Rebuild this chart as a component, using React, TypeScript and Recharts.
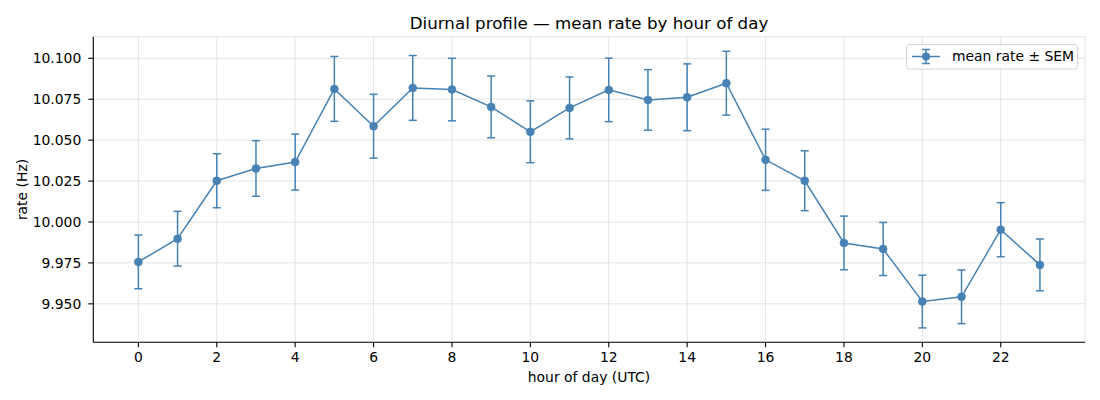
import React from 'react';
import { ComposedChart, Line, XAxis, YAxis, CartesianGrid, ErrorBar } from 'recharts';

const hours = [0, 1, 2, 3, 4, 5, 6, 7, 8, 9, 10, 11, 12, 13, 14, 15, 16, 17, 18, 19, 20, 21, 22, 23];
const meanRate = [
  9.9756, 9.9898, 10.0252, 10.0327, 10.0366, 10.0813, 10.0585, 10.0819, 10.0809, 10.0703, 10.0551, 10.0697,
  10.0807, 10.0746, 10.0762, 10.0848, 10.038, 10.0252, 9.9872, 9.9835, 9.9514, 9.9543, 9.9953, 9.9738,
];
const semValues = [
  0.0164, 0.0167, 0.0165, 0.017, 0.0171, 0.0198, 0.0195, 0.0198, 0.0191, 0.0189, 0.0189, 0.0189,
  0.0194, 0.0185, 0.0204, 0.0195, 0.0187, 0.0183, 0.0164, 0.0162, 0.0161, 0.0164, 0.0165, 0.0158,
];
const xTicks = [0, 2, 4, 6, 8, 10, 12, 14, 16, 18, 20, 22];
const yTicks = [9.95, 9.975, 10.0, 10.025, 10.05, 10.075, 10.1];

const title = 'Diurnal profile — mean rate by hour of day';
const xLabel = 'hour of day (UTC)';
const yLabel = 'rate (Hz)';
const legendLabel = 'mean rate ± SEM';

const data = hours.map((h, i) => ({ hour: h, rate: meanRate[i], sem: semValues[i] }));

const COLOR = '#4682b4';
const FONT = '"DejaVu Sans", sans-serif';

export default function App() {
  return (
    <div style={{ position: 'absolute', left: 0, top: 0, width: 1100, height: 400, background: '#fff' }}>
      <ComposedChart
        width={1100}
        height={400}
        data={data}
        margin={{ top: 36.7, right: 15, bottom: 0, left: 0 }}
      >
        <CartesianGrid stroke="#e3e3e3" strokeWidth={1} />
        <XAxis
          dataKey="hour"
          type="number"
          domain={[-1.15, 24.15]}
          ticks={xTicks}
          allowDataOverflow
          height={57.7}
          tickSize={5}
          tickMargin={5}
          axisLine={{ stroke: '#000', strokeWidth: 1.1 }}
          tickLine={{ stroke: '#000', strokeWidth: 1.1 }}
          tick={{ fontSize: 13.9, fill: '#000', fontFamily: FONT }}
        />
        <YAxis
          type="number"
          domain={[9.9265, 10.1132]}
          ticks={yTicks}
          allowDataOverflow
          width={93.3}
          tickSize={5}
          tickMargin={7}
          tickFormatter={(v: number) => v.toFixed(3)}
          axisLine={{ stroke: '#000', strokeWidth: 1.1 }}
          tickLine={{ stroke: '#000', strokeWidth: 1.1 }}
          tick={{ fontSize: 13.9, fill: '#000', fontFamily: FONT }}
        />
        <Line
          dataKey="rate"
          type="linear"
          stroke={COLOR}
          strokeWidth={1.5}
          dot={{ r: 4, fill: COLOR, stroke: COLOR, strokeWidth: 0.5 }}
          activeDot={false}
          isAnimationActive={false}
        >
          <ErrorBar dataKey="sem" direction="y" width={4} stroke={COLOR} strokeWidth={1.5} isAnimationActive={false} />
        </Line>
        <text x={589} y={29} textAnchor="middle" fontSize={16.7} fontFamily={FONT} fill="#000">
          {title}
        </text>
        <text x={589} y={382} textAnchor="middle" fontSize={13.9} fontFamily={FONT} fill="#000">
          {xLabel}
        </text>
        <text
          transform="translate(26.7,189.5) rotate(-90)"
          x={0}
          y={0}
          textAnchor="middle"
          fontSize={13.9}
          fontFamily={FONT}
          fill="#000"
        >
          {yLabel}
        </text>
        <g>
          <rect x={906.5} y={44.5} width={171} height={24.5} rx={2.5} fill="#fff" fillOpacity={0.8} stroke="#d6d6d6" strokeWidth={1} />
          <line x1={912} y1={56.5} x2={940} y2={56.5} stroke={COLOR} strokeWidth={1.5} />
          <line x1={926} y1={49.5} x2={926} y2={63.5} stroke={COLOR} strokeWidth={1.5} />
          <line x1={922} y1={49.5} x2={930} y2={49.5} stroke={COLOR} strokeWidth={1.5} />
          <line x1={922} y1={63.5} x2={930} y2={63.5} stroke={COLOR} strokeWidth={1.5} />
          <circle cx={926} cy={56.5} r={4} fill={COLOR} />
          <text x={952} y={61} fontSize={13.9} fontFamily={FONT} fill="#000">
            {legendLabel}
          </text>
        </g>
      </ComposedChart>
    </div>
  );
}
